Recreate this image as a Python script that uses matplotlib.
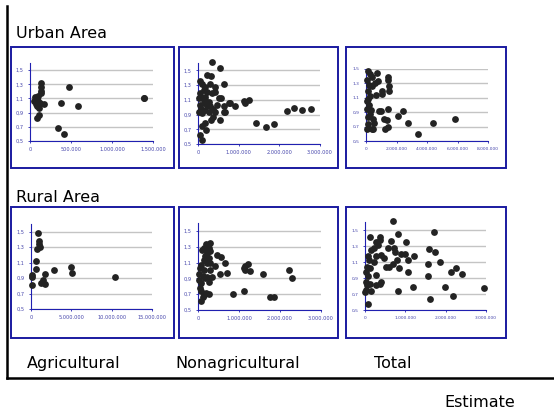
import matplotlib.pyplot as plt
from matplotlib.lines import Line2D
from matplotlib.patches import Rectangle
from matplotlib.ticker import FuncFormatter

# Urban area - agricultural (x in millions)
urb_agr_x = [0.13, 0.14, 0.14, 0.47, 0.06, 0.10, 0.05, 0.10, 0.07, 0.12, 0.17, 0.11,
             0.375, 0.59, 1.386, 1.39, 0.11, 0.08, 0.34, 0.42, 0.09, 0.14]
urb_agr_y = [1.32, 1.26, 1.21, 1.26, 1.12, 1.13, 1.06, 1.07, 1.02, 1.03, 1.02, 0.96,
             1.04, 1.00, 1.10, 1.11, 0.86, 0.82, 0.69, 0.60, 0.99, 1.17]

# Urban area - nonagricultural
urb_non_x = [0.34, 0.55, 0.22, 0.33, 0.65, 0.43, 0.30, 0.06, 0.10, 0.18, 0.14, 0.22,
             0.34, 0.43, 0.06, 0.10, 0.18, 0.51, 0.57, 0.26, 0.14, 0.06, 0.75, 0.79,
             0.92, 1.12, 1.16, 1.26, 0.63, 0.38, 0.18, 0.26, 0.41, 0.67, 0.63, 0.02,
             0.10, 0.36, 0.55, 0.33, 0.18, 0.10, 0.20, 0.06, 0.11, 1.42, 1.68, 1.87,
             2.18, 2.37, 2.56, 2.78, 0.03, 0.08, 0.16, 0.22, 0.30, 0.47]
urb_non_y = [1.62, 1.53, 1.44, 1.42, 1.31, 1.28, 1.32, 1.35, 1.32, 1.28, 1.23, 1.21,
             1.19, 1.20, 1.19, 1.12, 1.14, 1.12, 1.13, 1.07, 1.05, 1.03, 1.05, 1.05,
             1.02, 1.08, 1.05, 1.10, 1.01, 0.98, 0.96, 0.94, 0.93, 0.94, 0.94, 0.94,
             0.92, 0.87, 0.83, 0.83, 0.78, 0.74, 0.69, 0.62, 0.55, 0.78, 0.73, 0.77,
             0.95, 0.99, 0.96, 0.98, 1.12, 0.98, 1.10, 1.03, 1.01, 1.03]

# Urban area - total
urb_tot_x = [0.11, 0.26, 0.70, 0.37, 1.46, 1.42, 0.81, 0.59, 0.20, 0.37, 1.50, 1.50,
             1.07, 1.07, 0.63, 0.11, 0.26, 0.04, 0.20, 0.04, 0.33, 0.85, 0.98, 1.42,
             2.44, 2.07, 1.20, 1.35, 0.44, 0.54, 2.77, 4.40, 5.82, 0.11, 0.04, 0.37,
             0.48, 1.24, 1.46, 3.42, 0.15, 0.26, 0.04, 0.15]
urb_tot_y = [1.47, 1.43, 1.44, 1.39, 1.39, 1.35, 1.33, 1.30, 1.28, 1.26, 1.26, 1.20,
             1.20, 1.15, 1.14, 1.19, 1.12, 1.05, 1.00, 0.95, 0.93, 0.92, 0.92, 0.95,
             0.91, 0.85, 0.81, 0.79, 0.81, 0.75, 0.75, 0.75, 0.80, 0.74, 0.67, 0.67,
             0.66, 0.67, 0.69, 0.60, 0.84, 0.88, 1.35, 1.09]

# Rural area - agricultural
rur_agr_x = [0.87, 0.95, 0.95, 1.07, 0.74, 0.66, 0.58, 0.08, 0.08, 0.08, 2.89, 4.96,
             5.04, 10.45, 1.24, 1.49, 1.69, 1.69]
rur_agr_y = [1.49, 1.38, 1.34, 1.30, 1.28, 1.12, 1.02, 0.94, 0.91, 0.81, 1.00, 1.05,
             0.97, 0.91, 0.84, 0.88, 0.95, 0.82]

# Rural area - nonagricultural
rur_non_x = [0.30, 0.20, 0.14, 0.26, 0.10, 0.22, 0.30, 0.16, 0.26, 0.14, 0.22, 0.30,
             0.08, 0.06, 0.14, 0.03, 0.11, 0.22, 0.30, 0.41, 0.46, 0.56, 0.67, 0.71,
             0.54, 0.03, 0.08, 0.06, 0.08, 0.20, 0.28, 0.14, 0.11, 0.08, 0.85, 1.11,
             1.14, 1.15, 1.22, 1.28, 1.13, 1.59, 1.75, 1.85, 2.21, 2.29, 0.16, 0.26, 0.34]
rur_non_y = [1.35, 1.33, 1.28, 1.29, 1.26, 1.22, 1.24, 1.18, 1.16, 1.13, 1.10, 1.09,
             1.07, 1.03, 1.01, 0.96, 0.93, 0.92, 1.01, 1.05, 1.20, 1.17, 1.09, 0.97,
             0.96, 0.88, 0.84, 0.78, 0.74, 0.72, 0.70, 0.69, 0.66, 0.61, 0.70, 1.03,
             1.00, 1.05, 1.08, 0.99, 0.74, 0.96, 0.67, 0.66, 1.00, 0.91, 0.90, 0.86, 0.92]

# Rural area - total
rur_tot_x = [0.69, 0.13, 0.36, 0.38, 0.64, 0.83, 1.02, 1.72, 0.15, 0.23, 0.31, 0.27,
             0.58, 0.73, 1.58, 1.74, 0.74, 0.89, 0.98, 1.22, 0.40, 0.27, 0.48, 0.79,
             1.06, 1.86, 0.07, 0.11, 0.23, 0.05, 0.13, 0.52, 0.60, 0.69, 0.85, 1.57,
             2.26, 2.13, 2.40, 1.06, 1.57, 0.27, 0.02, 0.07, 0.02, 0.13, 0.27, 0.40,
             0.36, 1.20, 1.99, 2.96, 0.83, 0.15, 0.00, 0.02, 2.17, 1.62, 0.07, 0.05]
rur_tot_y = [1.61, 1.41, 1.41, 1.37, 1.36, 1.45, 1.35, 1.47, 1.25, 1.28, 1.31, 1.35,
             1.27, 1.27, 1.26, 1.23, 1.23, 1.20, 1.20, 1.17, 1.19, 1.17, 1.15, 1.13,
             1.12, 1.10, 1.17, 1.13, 1.10, 1.04, 1.02, 1.04, 1.04, 1.08, 1.02, 1.07,
             1.02, 0.98, 0.95, 0.98, 0.93, 0.94, 0.98, 0.92, 0.85, 0.83, 0.81, 0.85,
             0.83, 0.79, 0.79, 0.78, 0.74, 0.74, 0.72, 0.75, 0.68, 0.64, 0.58, 0.81]

y_ticks = [0.5, 0.7, 0.9, 1.1, 1.3, 1.5]
row_titles = ['Urban Area', 'Rural Area']
col_titles = ['Agricultural', 'Nonagricultural', 'Total']
footer = 'Estimate'

W, H = 554, 415
fig = plt.figure(figsize=(W / 100, H / 100), dpi=100)
fig.patch.set_facecolor('white')


def fx(px):
    return px / W


def fy(py):
    return 1 - py / H


def panel(box, area, xs, ys, xmax, xstep, ytop, fsize):
    # blue frame of the embedded chart
    x0, y0, x1, y1 = box
    fig.add_artist(Rectangle((fx(x0), fy(y1)), fx(x1 - x0), (y1 - y0) / H,
                             transform=fig.transFigure, fill=False,
                             edgecolor='#1a1aa0', linewidth=1.4))
    a0, b0, a1, b1 = area
    ax = fig.add_axes([fx(a0), fy(b1), fx(a1 - a0), (b1 - b0) / H])
    ax.set_xlim(0, xmax)
    ax.set_ylim(0.5, ytop)
    for t in y_ticks:
        ax.axhline(t, color='#c4c4c4', linewidth=1.0, zorder=1)
    ax.scatter(xs, ys, s=24, color='#232323', zorder=3, linewidths=0, clip_on=False)
    ax.set_yticks(y_ticks)
    ax.set_xticks([i * xstep for i in range(int(round(xmax / xstep)) + 1)])
    ax.xaxis.set_major_formatter(FuncFormatter(
        lambda v, p: '0' if v == 0 else '{:,.0f}'.format(v * 1e6).replace(',', '.')))
    ax.yaxis.set_major_formatter(FuncFormatter(
        lambda v, p: '{:.1f}'.format(v).replace('.', ',')))
    for s in ['top', 'right']:
        ax.spines[s].set_visible(False)
    for s in ['left', 'bottom']:
        ax.spines[s].set_color('#2020b0')
        ax.spines[s].set_linewidth(0.8)
    ax.tick_params(labelsize=fsize, colors='#2020b0', length=1.5, width=0.6, pad=3,
                   labelcolor='#4444aa')
    ax.set_facecolor('none')
    return ax


# row 1: urban
panel((11, 47, 174, 168), (30, 63, 153, 141), urb_agr_x, urb_agr_y, 1.5, 0.5, 1.6, 3.6)
panel((179, 47, 338, 168), (198, 63, 320, 144), urb_non_x, urb_non_y, 3.0, 1.0, 1.6, 3.6)
panel((346, 47, 506, 168), (366, 69, 488, 141), urb_tot_x, urb_tot_y, 8.0, 2.0, 1.5, 3.2)
# row 2: rural
panel((11, 207, 174, 338), (31, 224, 152, 309), rur_agr_x, rur_agr_y, 15.0, 5.0, 1.6, 3.6)
panel((179, 207, 338, 338), (198, 223, 321, 310), rur_non_x, rur_non_y, 3.0, 1.0, 1.6, 3.6)
panel((346, 207, 506, 338), (365, 222, 486, 310), rur_tot_x, rur_tot_y, 3.0, 1.0, 1.6, 3.2)

# outer frame lines
fig.add_artist(Line2D([fx(7), fx(7)], [fy(6), fy(378)], color='black', linewidth=1.8,
                      transform=fig.transFigure))
fig.add_artist(Line2D([fx(7), fx(554)], [fy(378), fy(378)], color='black', linewidth=1.8,
                      transform=fig.transFigure))

fig.text(fx(16), fy(33), row_titles[0], fontsize=11.5, va='center', ha='left')
fig.text(fx(16), fy(197), row_titles[1], fontsize=11.5, va='center', ha='left')
for cx, t in zip([74, 238, 393], col_titles):
    fig.text(fx(cx), fy(363), t, fontsize=11.5, va='center', ha='center')
fig.text(fx(480), fy(402), footer, fontsize=11.5, va='center', ha='center')

fig.savefig('out.png', dpi=100)
